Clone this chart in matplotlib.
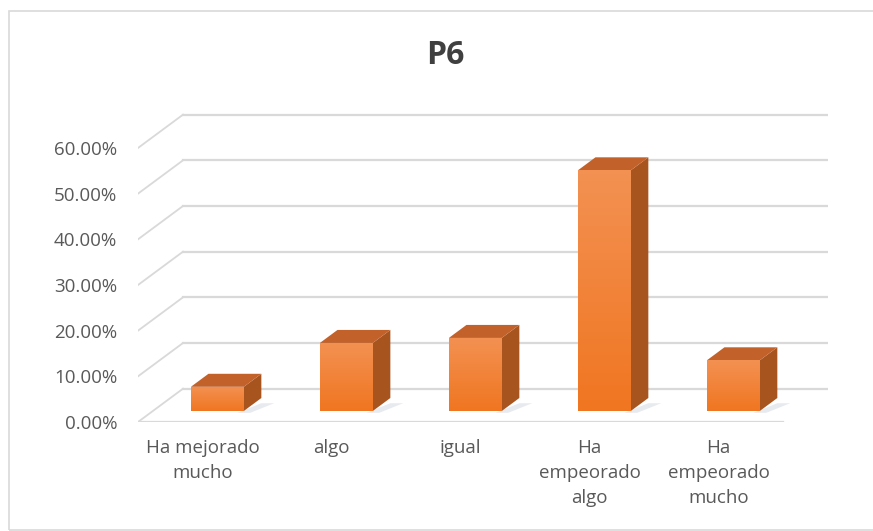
import numpy as np
import matplotlib
matplotlib.use("Agg")
import matplotlib.pyplot as plt
from matplotlib.patches import Polygon, Rectangle
from matplotlib.colors import LinearSegmentedColormap

# data
categories = ["Ha mejorado\nmucho", "algo", "igual", "Ha\nempeorado\nalgo", "Ha\nempeorado\nmucho"]
values = [5.3, 14.9, 16.0, 52.7, 11.1]   # percent
yticks = [0, 10, 20, 30, 40, 50, 60]

plt.rcParams['font.family'] = ['Open Sans', 'DejaVu Sans']

# fake 3d geometry (data units)
DX, DY = 0.349, 7.3      # full floor depth offset
F0, F1 = 0.33, 0.72      # bar depth span as fraction of floor depth
W = 0.41                 # bar width

grid_c = "#D9D9D9"
text_c = "#595959"
top_c = "#C2612A"
side_c = "#A8541F"
front_cmap = LinearSegmentedColormap.from_list("fr", ["#F07621", "#F39152"])

fig = plt.figure(figsize=(8.73, 5.31), dpi=100)
fig.patches.append(Rectangle((9 / 873, 0.002), 1.2, 1 - 11 / 531 - 0.002,
                             transform=fig.transFigure, fill=False,
                             ec=grid_c, lw=1.2, zorder=0))

ax = fig.add_axes([138 / 873, 109 / 531, 690 / 873, 68 * 4.567 / 531])
for s in ax.spines.values():
    s.set_visible(False)

n = len(categories)
x0, x1 = -0.5, n - 0.5

# back wall gridlines + diagonals on the left wall
for v in yticks:
    ax.plot([x0, x0 + DX], [v, v + DY], color=grid_c, lw=1.3, zorder=1)
    ax.plot([x0 + DX, x1 + DX], [v + DY, v + DY], color=grid_c, lw=1.6, zorder=1)
# floor front edge
ax.plot([x0, x1], [0, 0], color=grid_c, lw=1.6, zorder=1)

# bars
for i, v in enumerate(values):
    xl = i - W / 2 + F0 * DX
    xr = i + W / 2 + F0 * DX
    yb = F0 * DY
    yt = yb + v
    ddx, ddy = (F1 - F0) * DX, (F1 - F0) * DY
    # soft shadow
    ax.add_patch(Polygon([(xr - 0.05, yb - 0.4), (xr + ddx, yb + ddy * 0.6),
                          (xr + ddx + 0.1, yb + ddy * 0.6), (xr + 0.05, yb - 0.4)],
                         closed=True, fc="#CBD1DA", ec="none", alpha=0.45, zorder=2))
    ax.add_patch(Polygon([(xr, yb), (xr + ddx, yb + ddy), (xr + ddx, yt + ddy), (xr, yt)],
                         closed=True, fc=side_c, ec="none", zorder=3))
    ax.add_patch(Polygon([(xl, yt), (xr, yt), (xr + ddx, yt + ddy), (xl + ddx, yt + ddy)],
                         closed=True, fc=top_c, ec="none", zorder=3))
    front = Rectangle((xl, yb), xr - xl, v, fc="none", ec="none")
    ax.add_patch(front)
    im = ax.imshow(np.linspace(0, 1, 64).reshape(-1, 1), cmap=front_cmap,
                   extent=(xl, xr, yb, yt), origin="lower", aspect="auto", zorder=4)
    im.set_clip_path(front)

ax.set_xlim(-0.5, 4.5 + DX)
ax.set_ylim(0, 68)

ax.set_yticks(yticks)
ax.set_yticklabels([f"{t:.2f}%" for t in yticks], color=text_c, fontsize=13.5)
ax.tick_params(axis="y", length=0, pad=15)

ax.set_xticks(np.arange(n))
ax.set_xticklabels(categories, color=text_c, fontsize=13.5, linespacing=1.5)
ax.tick_params(axis="x", length=0, pad=12)

fig.text(445 / 873, 1 - 55 / 531, "P6", ha="center", va="center",
         fontsize=23, fontweight="bold", color="#404040")

fig.savefig("out.png", dpi=100)
